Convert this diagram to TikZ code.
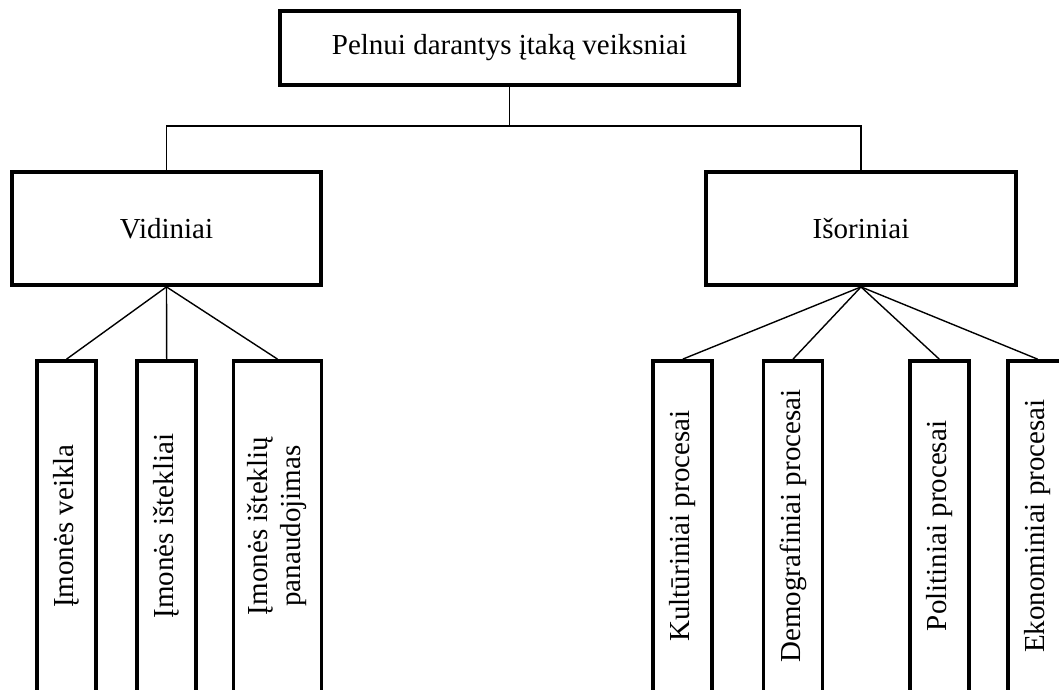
\documentclass[tikz,border=0pt]{standalone}
\usepackage{fontspec}
\setmainfont{Liberation Serif}
% rotated label, nudged so it sits above the middle of its tall box
\newcommand{\uprot}[1]{\rotatebox{90}{\hspace*{10pt}#1}}
\begin{document}
\begin{tikzpicture}[x=1pt,y=-1pt,
  box/.style={draw=black,line width=3.8pt,fill=white,inner sep=0pt,align=center,
    font=\fontsize{29}{33}\selectfont},
  tall/.style={box,minimum width=59pt,minimum height=340pt},
  link/.style={draw=black,line width=1.4pt}]
\useasboundingbox (0,0) rectangle (1059,689);
\clip (0,0) rectangle (1059,689);
\fill[white] (0,0) rectangle (1059,689);

% top level
\node[box,minimum width=459pt,minimum height=74pt] (root) at (509.5,48) {Pelnui darantys įtaką veiksniai};

% second level
\node[box,minimum width=309pt,minimum height=113pt] (vid) at (166.5,228.5) {Vidiniai};
\node[box,minimum width=310pt,minimum height=113pt] (iso) at (861,228.5) {Išoriniai};

% internal factors
\node[tall] (v1) at (66.6,531) {\uprot{Įmonės veikla}};
\node[tall] (v2) at (166.7,531) {\uprot{Įmonės ištekliai}};
\node[tall,minimum width=88pt] (v3) at (277.5,531) {\uprot{\begin{tabular}{@{}c@{}}Įmonės išteklių\\panaudojimas\end{tabular}}};

% external factors
\node[tall] (e1) at (682.8,531) {\uprot{Kultūriniai procesai}};
\node[tall] (e2) at (793,531) {\uprot{Demografiniai procesai}};
\node[tall] (e3) at (939.2,531) {\uprot{Politiniai procesai}};
\node[tall] (e4) at (1037.5,531) {\uprot{Ekonominiai procesai}};

% connectors
\coordinate (bar) at (509.5,126);
\draw[link] (root.south) -- (bar);
\draw[link] (vid.north) |- (bar) -| (iso.north);

\foreach \c in {v1,v2,v3} \draw[link] (vid.south) -- (\c.north);
\foreach \c in {e1,e2,e3,e4} \draw[link] (iso.south) -- (\c.north);
\end{tikzpicture}
\end{document}
